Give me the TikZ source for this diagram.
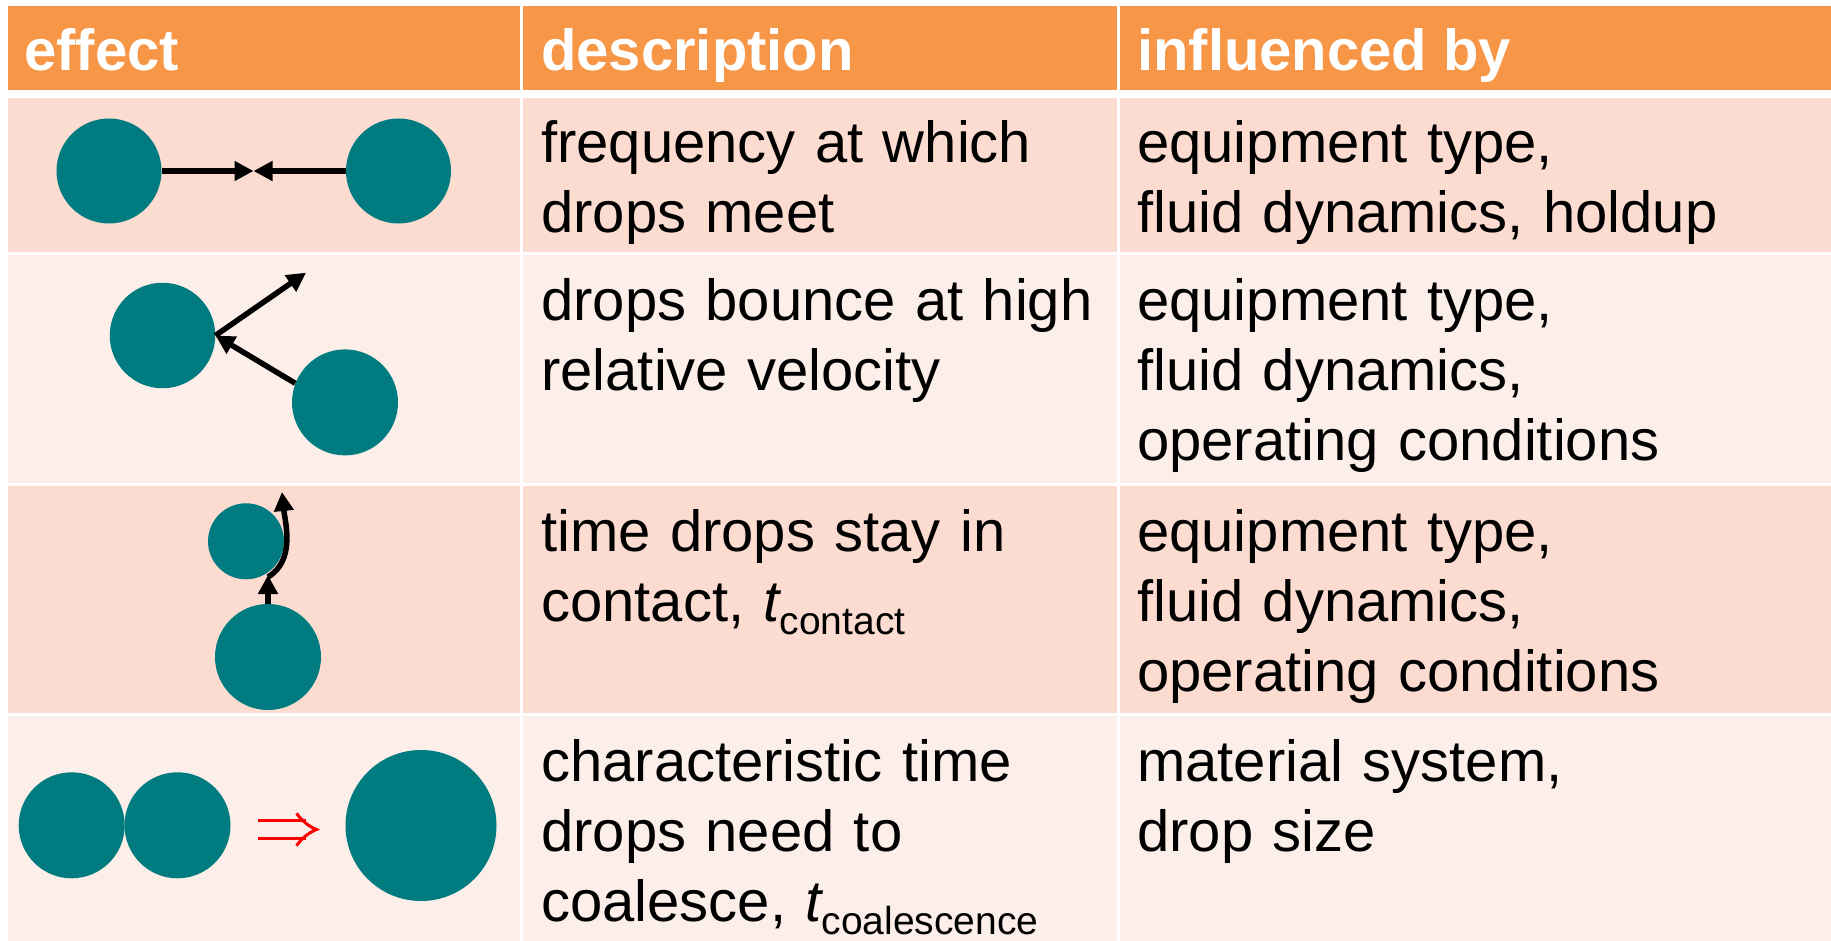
\documentclass[tikz,border=0pt]{standalone}
\usepackage{fontspec}
\setmainfont{Liberation Sans}
\usetikzlibrary{arrows.meta}
\definecolor{hdr}{HTML}{F79646}
\definecolor{rowA}{HTML}{FCDCD0}
\definecolor{rowB}{HTML}{FCEEE9}
\definecolor{drop}{HTML}{007B80}
\definecolor{arrred}{HTML}{FF0000}
\tikzset{
  hdrcell/.style={fill=hdr},
  cellA/.style={fill=rowA},
  cellB/.style={fill=rowB},
  drp/.style={circle, fill=drop, inner sep=0pt, minimum size=#1},
  arr/.style={line width=5.5pt, -{Triangle[length=19pt,width=19pt]}},
  hdrtxt/.style={anchor=base west, inner sep=0pt, text=white, font=\fontsize{58}{70}\selectfont\bfseries},
  bodytxt/.style={anchor=base west, inner sep=0pt, text width=600pt, align=left, font=\fontsize{58}{70}\selectfont},
  implline/.style={draw=arrred, line width=3pt},
}
\newcommand{\subtxt}[1]{\raisebox{-13pt}{\fontsize{39}{39}\selectfont #1}}
\begin{document}
\begin{tikzpicture}[x=1pt,y=-1pt]
\useasboundingbox (0,0) rectangle (1831,941);
\fill[white] (0,0) rectangle (1831,941);
% header
\fill[hdrcell] (8,5.7) rectangle (519.5,90);
\fill[hdrcell] (522.5,5.7) rectangle (1116.5,90);
\fill[hdrcell] (1119.5,5.7) rectangle (1831,90);
% row 1
\fill[cellA] (8,97.7) rectangle (519.5,252.3);
\fill[cellA] (522.5,97.7) rectangle (1116.5,252.3);
\fill[cellA] (1119.5,97.7) rectangle (1831,252.3);
% row 2
\fill[cellB] (8,255.3) rectangle (519.5,483.3);
\fill[cellB] (522.5,255.3) rectangle (1116.5,483.3);
\fill[cellB] (1119.5,255.3) rectangle (1831,483.3);
% row 3
\fill[cellA] (8,486.3) rectangle (519.5,713.3);
\fill[cellA] (522.5,486.3) rectangle (1116.5,713.3);
\fill[cellA] (1119.5,486.3) rectangle (1831,713.3);
% row 4
\fill[cellB] (8,716.3) rectangle (519.5,941);
\fill[cellB] (522.5,716.3) rectangle (1116.5,941);
\fill[cellB] (1119.5,716.3) rectangle (1831,941);

% header texts
\node[hdrtxt] (h1) at (24,70.7) {effect};
\node[hdrtxt] (h2) at (541,70.7) {description};
\node[hdrtxt] (h3) at (1137,70.7) {influenced by};

% body texts
\node[bodytxt] (r1d) at (541,162.7) {frequency at which\\drops meet};
\node[bodytxt] (r1i) at (1137,162.7) {equipment type,\\fluid dynamics, holdup};
\node[bodytxt] (r2d) at (541,320.3) {drops bounce at high\\relative velocity};
\node[bodytxt] (r2i) at (1137,320.3) {equipment type,\\fluid dynamics,\\operating conditions};
\node[bodytxt] (r3d) at (541,551.3) {time drops stay in\\contact, {\itshape t}\subtxt{contact}};
\node[bodytxt] (r3i) at (1137,551.3) {equipment type,\\fluid dynamics,\\operating conditions};
\node[bodytxt] (r4d) at (541,781.3) {characteristic time\\drops need to\\coalesce, {\itshape t}\subtxt{coalescence}};
\node[bodytxt] (r4i) at (1137,781.3) {material system,\\drop size};

% row 1 graphic
\node[drp=105pt] (d1a) at (109,171) {};
\node[drp=105pt] (d1b) at (398.5,171) {};
\coordinate (m1) at (253.5,171);
\draw[arr] (d1a.east) -- (m1);
\draw[arr] (d1b.west) -- (m1);

% row 2 graphic
\node[drp=105.5pt] (d2a) at (162.5,335.5) {};
\node[drp=106pt] (d2b) at (345,402.4) {};
\coordinate (t2) at (306,272.7);
\draw[arr] (d2b.159) -- (d2a.east);
\draw[arr] (d2a.east) -- (t2);

% row 3 graphic
\node[drp=76pt] (d3a) at (246,541.3) {};
\node[drp=106pt] (d3b) at (268,657) {};
\coordinate (t3a) at (268,575);
\coordinate (s3) at (268,577);
\coordinate (t3b) at (282,492);
\draw[arr] (d3b.north) -- (t3a);
\draw[arr] (s3) .. controls (296,560) and (285,522) .. (t3b);

% row 4 graphic
\node[drp=106pt] (d4a) at (71.7,825.3) {};
\node[drp=106pt] (d4b) at (177.5,825.3) {};
\node[drp=151pt] (d4c) at (421,825.5) {};
\draw[implline] (258,820.9) -- (306,820.9);
\draw[implline] (258,838.1) -- (306,838.1);
\draw[implline, line join=miter] (296.5,813.3) .. controls (302,821) and (309,826.5) .. (316.5,829.5)
  .. controls (309,832.5) and (302,838) .. (296.5,845.7);
\end{tikzpicture}
\end{document}
